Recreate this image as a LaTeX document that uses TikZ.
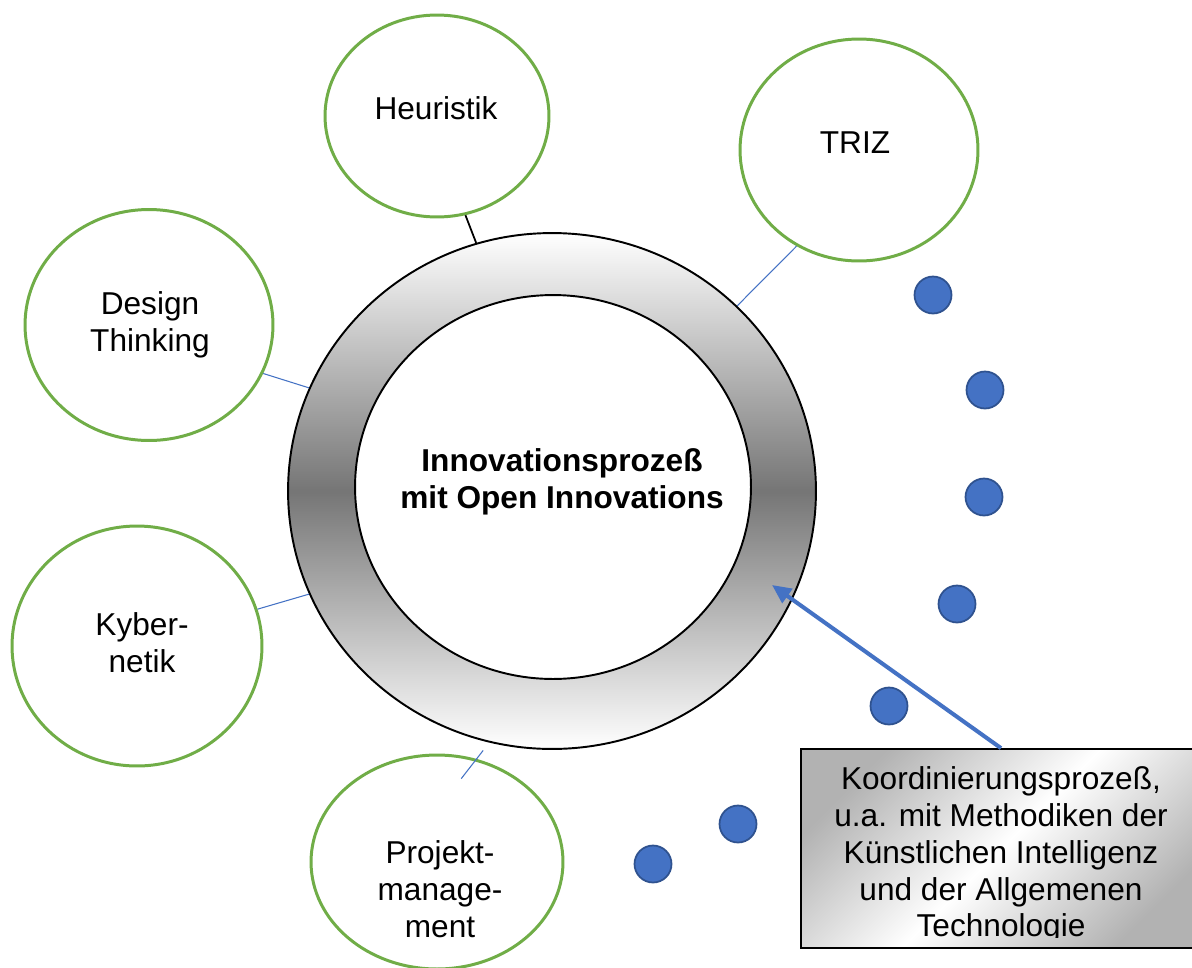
\documentclass[tikz,border=0pt]{standalone}
\usepackage{fontspec}
\setmainfont{Liberation Sans}
\usetikzlibrary{shapes.geometric,arrows.meta}

\definecolor{methgreen}{HTML}{70AD47}
\definecolor{linkblue}{HTML}{4472C4}
\definecolor{dotedge}{HTML}{2F528F}

\tikzset{
  method/.style={ellipse, draw=methgreen, line width=1.7pt, fill=white, inner sep=0pt},
  mtext/.style={align=center, font=\fontsize{18}{21}\selectfont},
  link/.style={draw=linkblue, line width=0.6pt},
  seqdot/.style={circle, fill=linkblue, draw=dotedge, line width=1pt, minimum size=0.74cm, inner sep=0pt},
}

\begin{document}
\begin{tikzpicture}[x=0.02cm, y=-0.02cm]
  \useasboundingbox (0,0) rectangle (1192,967);
  \clip (0,0) rectangle (1192,967);

  % ring with the process in the middle
  \node[ellipse, draw, line width=1.1pt, inner sep=0pt, minimum width=10.56cm, minimum height=10.32cm,
        top color=white, bottom color=white, middle color=black!54] (ring) at (552,491) {};
  \node[ellipse, draw, line width=1.1pt, inner sep=0pt, fill=white,
        minimum width=7.92cm, minimum height=7.68cm] (core) at (553,487) {};
  \node[mtext, font=\fontsize{18}{20.8}\selectfont\bfseries] (coretext) at (562,482) {Innovationsprozeß\\mit Open Innovations};

  \node[method, minimum width=4.48cm, minimum height=4.04cm] (heur) at (437,116) {};
  \node[mtext] (heurtext) at (436,108) {Heuristik};
  \node[method, minimum width=4.76cm, minimum height=4.44cm] (triz) at (859,150) {};
  \node[mtext] (triztext) at (855,143) {TRIZ};
  \node[method, minimum width=4.96cm, minimum height=4.62cm] (design) at (149,325) {};
  \node[mtext] (designtext) at (150,325) {Design\\Thinking};
  \node[method, minimum width=5cm, minimum height=4.8cm] (kyber) at (137,646) {};
  \node[mtext] (kybertext) at (142,643) {Kyber-\\netik};
  \node[method, minimum width=5.04cm, minimum height=4.28cm] (proj) at (437,862) {};
  \node[mtext] (projtext) at (440,889) {Projekt-\\manage-\\ment};

  \draw[line width=1pt] (heur.286) -- (ring.107);
  \draw[link] (triz.237) -- (ring.45);
  \draw[link] (design.337) -- (ring.157);
  \draw[link] (kyber.17) -- (ring.203);
  \draw[link, shorten <=-0.5cm, shorten >=0.2cm] (proj.69) -- (ring.256);

  \foreach \i/\px/\py in {1/933/295, 2/985/390, 3/984/497, 4/957/604, 5/889/706, 6/738/824, 7/653/864}{
    \node[seqdot] (dot\i) at (\px,\py) {};
  }

  \node[draw, line width=1pt, inner sep=0pt, minimum width=8cm, minimum height=3.98cm,
        top color=black!30, bottom color=black!30, middle color=white, shading angle=45] (coord) at (1001,848.5) {};
  \begin{scope}
    \clip (801,749) rectangle (1192,937);
    \node[mtext] (coordtext) at (1001,855) {Koordinierungsprozeß,\\u.a. mit Methodiken der\\Künstlichen Intelligenz\\und der Allgemenen\\Technologie};
  \end{scope}

  \coordinate (arrowtip) at (772,585);
  \draw[linkblue, line width=2.3pt, -{Triangle[length=0.38cm,width=0.34cm]}] (coord.north) -- (arrowtip);
\end{tikzpicture}
\end{document}
